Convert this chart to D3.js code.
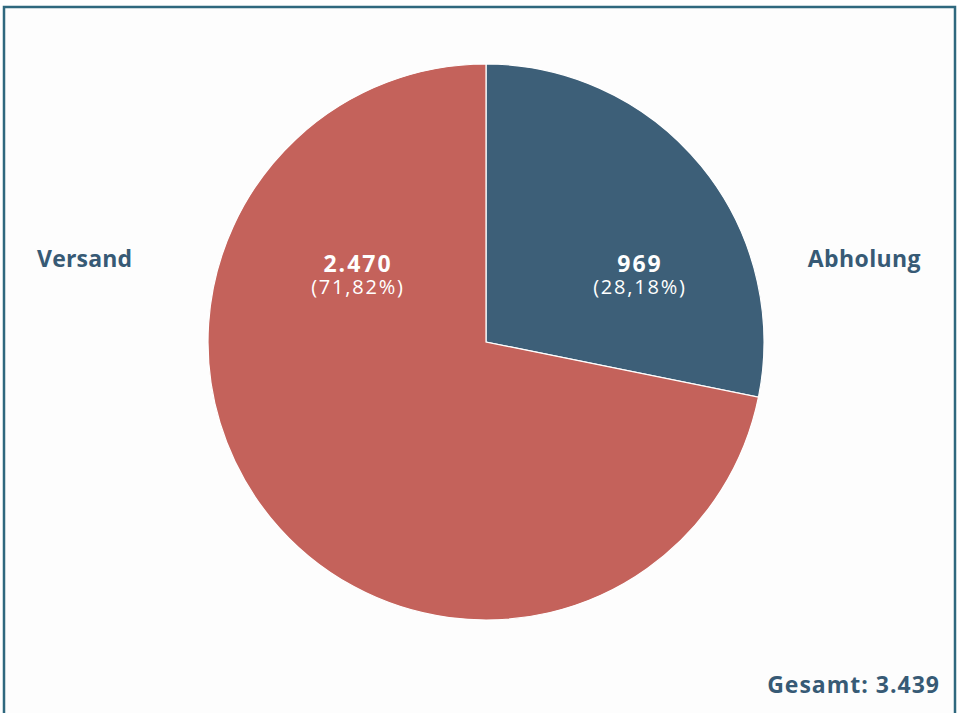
<!DOCTYPE html>
<html>
<head>
<meta charset="utf-8">
<script src="https://cdn.jsdelivr.net/npm/d3@7/dist/d3.min.js"></script>
<style>
  html, body { margin: 0; padding: 0; background: #ffffff; }
  svg { display: block; }
</style>
</head>
<body>
<svg id="chart" width="960" height="713"></svg>
<script>
// Versandart der Bestellungen
const categories = ["Abholung", "Versand"];
const values = [969, 2470];
const shareLabels = ["(28,18%)", "(71,82%)"];
const valueLabels = ["969", "2.470"];
const totalLabel = "Gesamt: 3.439";
const colors = ["#3d5f78", "#c4625b"];

const W = 960, H = 713;
const svg = d3.select("#chart");
const textColor = "#375a75";
const font = "'Open Sans', 'Noto Sans', sans-serif";

// frame
svg.append("rect")
  .attr("x", 0).attr("y", 0).attr("width", W).attr("height", H)
  .attr("fill", "#ffffff");
svg.append("rect")
  .attr("x", 4).attr("y", 7).attr("width", 951).attr("height", 720)
  .attr("fill", "#fdfdfd")
  .attr("stroke", "#2f687e").attr("stroke-width", 2.5);

const cx = 486, cy = 342, r = 278;
const g = svg.append("g").attr("transform", `translate(${cx},${cy})`);

const pie = d3.pie().sort(null).value(d => d);
const arcs = pie(values);
const arc = d3.arc().innerRadius(0).outerRadius(r);

g.selectAll("path.slice")
  .data(arcs)
  .join("path")
  .attr("class", "slice")
  .attr("d", arc)
  .attr("fill", (d, i) => colors[i])
  .attr("stroke", "#ffffff")
  .attr("stroke-width", 1.2);

// values inside slices
const innerX = [640 - cx, 358 - cx];
arcs.forEach((d, i) => {
  const x = innerX[i];
  g.append("text")
    .attr("x", x).attr("y", 272 - cy)
    .attr("text-anchor", "middle")
    .attr("font-family", font)
    .attr("font-weight", 700)
    .attr("font-size", 23)
    .attr("letter-spacing", 2)
    .attr("fill", "#ffffff")
    .text(valueLabels[i]);
  g.append("text")
    .attr("x", x).attr("y", 294 - cy)
    .attr("text-anchor", "middle")
    .attr("font-family", font)
    .attr("font-weight", 400)
    .attr("font-size", 20)
    .attr("letter-spacing", 1.8)
    .attr("fill", "#ffffff")
    .text(shareLabels[i]);
});

// category names outside
svg.append("text")
  .attr("x", 921).attr("y", 267)
  .attr("text-anchor", "end")
  .attr("font-family", font).attr("font-weight", 700).attr("font-size", 23)
  .attr("letter-spacing", 0.4)
  .attr("fill", textColor)
  .text(categories[0]);
svg.append("text")
  .attr("x", 37).attr("y", 267)
  .attr("text-anchor", "start")
  .attr("font-family", font).attr("font-weight", 700).attr("font-size", 23)
  .attr("letter-spacing", 0.2)
  .attr("fill", textColor)
  .text(categories[1]);

// total
svg.append("text")
  .attr("x", 940).attr("y", 693)
  .attr("text-anchor", "end")
  .attr("font-family", font).attr("font-weight", 700).attr("font-size", 23)
  .attr("letter-spacing", 1)
  .attr("fill", textColor)
  .text(totalLabel);
</script>
</body>
</html>
